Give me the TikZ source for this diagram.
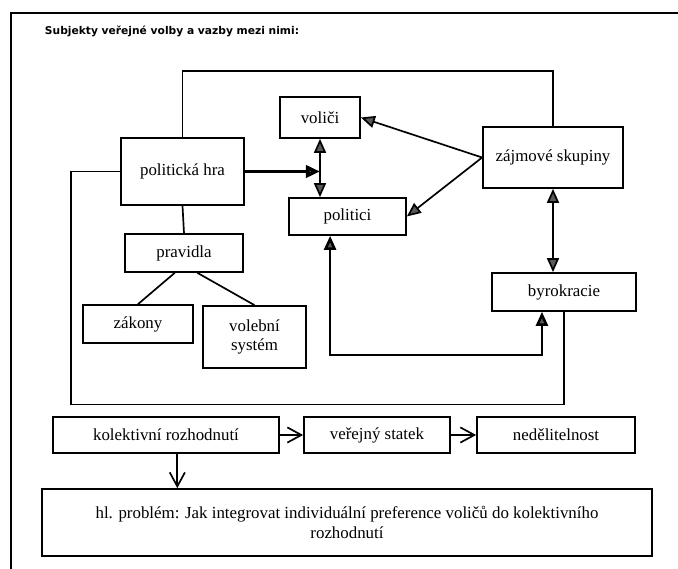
\documentclass[tikz,border=0pt]{standalone}
\usepackage{fontspec}
\setmainfont{Liberation Serif}
\newfontfamily\titlefont{DejaVu Sans}
\usetikzlibrary{arrows.meta}

\begin{document}
\begin{tikzpicture}[
       x=0.025cm, y=-0.025cm,
       box/.style={rectangle, draw=black, line width=1.2pt, inner sep=0pt, align=center, font=\fontsize{12}{14}\selectfont},
       link/.style={draw=black, line width=1.2pt},
       tip/.style={link, -{Triangle[length=3.5mm, width=3mm, fill=black!65]}},
       dbltip/.style={link, {Triangle[length=3.5mm, width=3mm, fill=black!65]}-{Triangle[length=3.5mm, width=3mm, fill=black!65]}},
       veearrow/.style={link, -{Straight Barb[length=3.5mm, width=3.8mm]}}
   ]
   \useasboundingbox (0,0) rectangle (678,569);
   \draw[line width=2pt] (678,13) -- (11,13) -- (11,569);
   \node[anchor=west, font=\titlefont\bfseries\fontsize{7.6}{9}\selectfont] (title) at (40,31) {Subjekty veřejné volby a vazby mezi nimi:};

   \node[box, minimum width=2cm, minimum height=1.025cm] (vol) at (320,117.5) {voliči};
   \node[box, minimum width=3.075cm, minimum height=1.675cm] (hra) at (182.5,171.5) {politická hra};
   \node[box, minimum width=3.5cm, minimum height=1.525cm] (zaj) at (553,157.5) {\raisebox{-4pt}{zájmové skupiny}};
   \node[box, minimum width=2.925cm, minimum height=0.925cm] (plt) at (347.5,216.5) {politici};
   \node[box, minimum width=2.95cm, minimum height=0.95cm] (prav) at (184,253) {pravidla};
   \node[box, minimum width=2.75cm, minimum height=0.95cm] (zak) at (138,324) {zákony};
   \node[box, minimum width=2.575cm, minimum height=1.55cm] (vs) at (254.5,337) {volební\\systém};
   \node[box, minimum width=3.6cm, minimum height=0.95cm] (byr) at (564,292) {byrokracie};

   \node[box, minimum width=5.65cm, minimum height=0.9cm] (kol) at (166,435) {kolektivní rozhodnutí};
   \node[box, minimum width=3.65cm, minimum height=0.9cm] (stat) at (377,435) {veřejný statek};
   \node[box, minimum width=3.95cm, minimum height=0.9cm] (ned) at (556,435) {nedělitelnost};
   \node[box, minimum width=15.25cm, minimum height=1.675cm] (prob) at (347,522.5) {hl. problém: Jak integrovat individuální preference voličů do kolektivního\\rozhodnutí};

   \draw[link] (hra.north) -- ++(0,-66) -| (zaj.north);
   \draw[link] (hra.west) -- ++(-49,0) -- ++(0,233) -| (byr.south);
   \draw[tip, line width=2.6pt] (hra.east) -- (hra.east -| vol.south);
   \draw[dbltip] (vol.south) -- (vol.south |- plt.north);
   \draw[tip] (zaj.west) -- (vol.east);
   \draw[tip] (zaj.west) -- (plt.east);
   \draw[link] (hra.south) -- (prav.north);
   \draw[link] (prav.245) -- (zak.north);
   \draw[link] (prav.304) -- (vs.north);
   \draw[dbltip] (zaj.south) -- (zaj.south |- byr.north);
   \draw[dbltip, line width=1.8pt] (plt.228) -- ++(0,119) -| (byr.222);

   \draw[veearrow] (kol.east) -- (stat.west);
   \draw[veearrow] (stat.east) -- (ned.west);
   \draw[veearrow] (kol.301) -- (kol.301 |- prob.north);
\end{tikzpicture}
\end{document}
